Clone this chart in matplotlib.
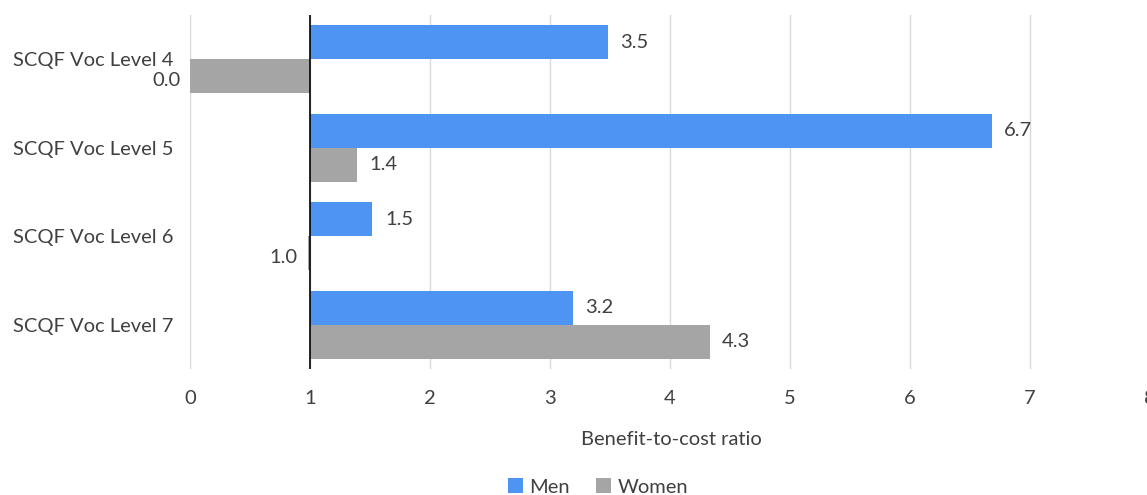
import matplotlib
matplotlib.use("Agg")
import matplotlib.pyplot as plt
from matplotlib.patches import Patch
import numpy as np

categories = ["SCQF Voc Level 4", "SCQF Voc Level 5", "SCQF Voc Level 6", "SCQF Voc Level 7"]
men = [3.48, 6.68, 1.52, 3.19]
women = [0.0, 1.39, 0.98, 4.33]
series_names = ["Men", "Women"]
x_ticks = [0, 1, 2, 3, 4, 5, 6, 7, 8]
baseline = 1.0

blue = "#4E94F3"
grey = "#A5A5A5"
text_col = "#404040"
fs = 14.5

plt.rcParams["font.family"] = ["Lato", "DejaVu Sans"]

W, H = 1147, 495
fig = plt.figure(figsize=(W / 100, H / 100), dpi=100)
ax = fig.add_axes([190 / W, 1 - 369 / H, 960 / W, (369 - 15) / H])

n = len(categories)
pos = np.arange(n)
bh = 0.384

for i in range(n):
    ax.barh(pos[i] - bh / 2, men[i] - baseline, left=baseline, height=bh, color=blue, zorder=3)
    ax.barh(pos[i] + bh / 2, women[i] - baseline, left=baseline, height=bh, color=grey, zorder=3)

def label(v, y):
    if v >= baseline:
        ax.annotate(f"{v:.1f}", (v, y), xytext=(9, 0), textcoords="offset points",
                    ha="left", va="center", fontsize=fs, color=text_col)
    else:
        ax.annotate(f"{v:.1f}", (v, y), xytext=(-7, -3), textcoords="offset points",
                    ha="right", va="center", fontsize=fs, color=text_col)

for i in range(n):
    label(men[i], pos[i] - bh / 2)
    label(women[i], pos[i] + bh / 2)

ax.set_xlim(0, 8)
ax.set_ylim(n - 0.5, -0.5)
ax.set_xticks(x_ticks)
ax.set_xticklabels([str(t) for t in x_ticks])
ax.set_yticks(pos)
ax.set_yticklabels(categories)
ax.tick_params(axis="both", length=0, labelsize=fs, colors=text_col)
ax.tick_params(axis="x", pad=15)
ax.tick_params(axis="y", pad=12)
ax.grid(axis="x", color="#D9D9D9", linewidth=1, zorder=0)
for s in ax.spines.values():
    s.set_visible(False)
ax.axvline(baseline, color="black", linewidth=1.2, zorder=4)

ax.set_xlabel("Benefit-to-cost ratio", fontsize=fs, color=text_col)
# center the label on the visible figure rather than the full axis
ax.xaxis.set_label_coords((671 - 190) / 960, -0.175)

handles = [Patch(facecolor=blue), Patch(facecolor=grey)]
fig.legend(handles, series_names, loc="center", bbox_to_anchor=(598 / W, 1 - 487 / H),
           ncol=2, frameon=False, fontsize=fs, handlelength=0.75, handleheight=0.75,
           handletextpad=0.3, columnspacing=1.3, labelcolor=text_col)

fig.savefig("out.png", dpi=100)
